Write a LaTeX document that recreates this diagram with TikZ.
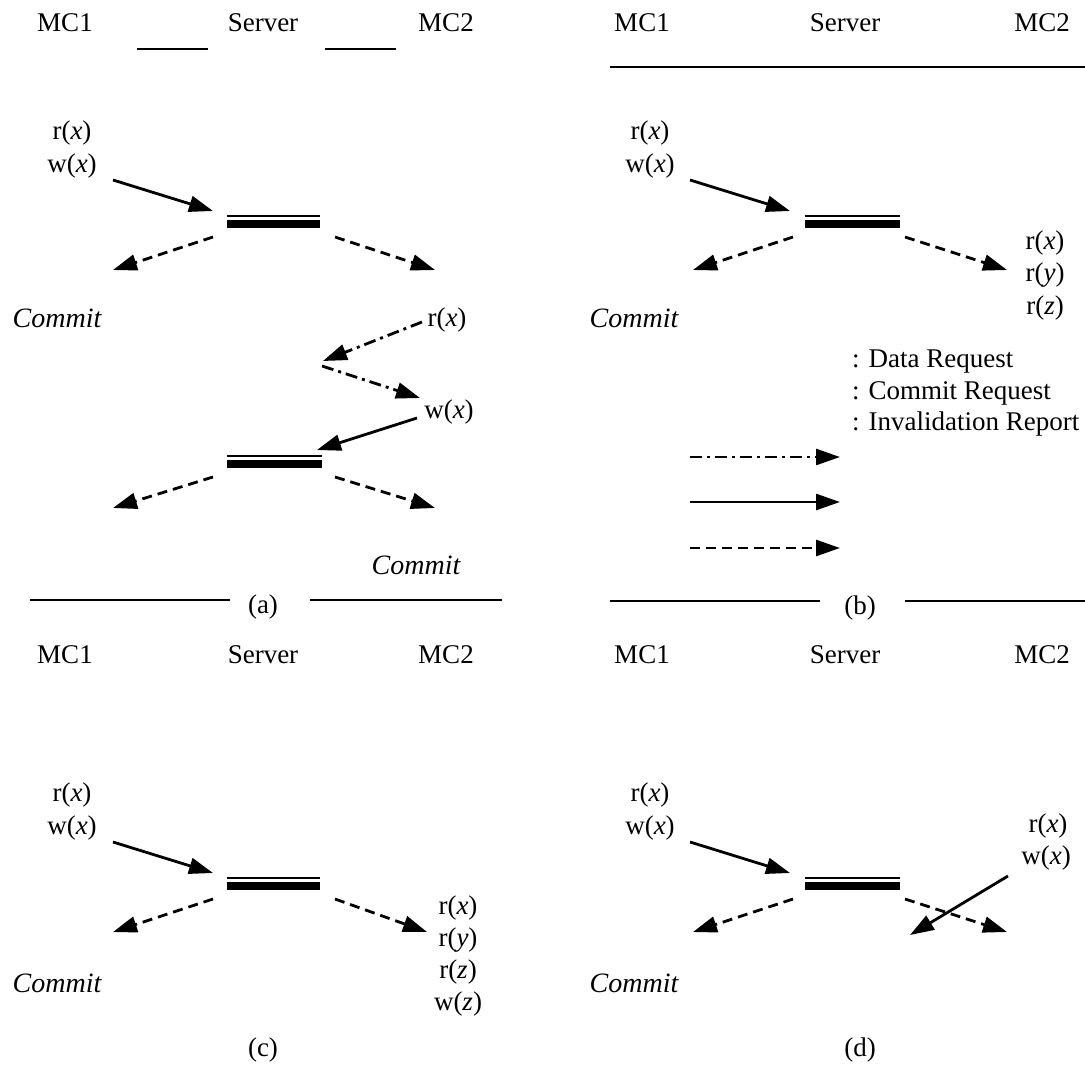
\documentclass[tikz,border=0pt]{standalone}
\usepackage{fontspec}
\setmainfont{Liberation Serif}
\usetikzlibrary{arrows.meta}
\tikzset{
  lbl/.style={font=\fontsize{27}{32}\selectfont, inner sep=0pt},
  clbl/.style={lbl, font=\fontsize{28}{32}\selectfont\itshape},
  msg/.style={line width=2.8pt, -{Triangle[length=24pt,width=16pt]}},
  dreq/.style={msg, dash pattern=on 12pt off 5pt on 3pt off 5pt},
  creq/.style={msg},
  inv/.style={msg, dash pattern=on 10pt off 6pt},
  thinbar/.style={line width=2.8pt},
  thickbar/.style={line width=7.5pt},
  rule/.style={line width=2.6pt},
}
\newcommand{\srvbar}[3]{% x1 x2 y(top)
  \draw[thinbar] (#1,#3) -- (#2,#3);
  \draw[thickbar] (#1,#3+8) -- (#2,#3+8);
}
\begin{document}
\begin{tikzpicture}[x=1pt,y=-1pt]
\useasboundingbox (0,0) rectangle (1085,1073);

% ===================== (a) =====================
\node[lbl] (aMC1) at (65,23) {MC1};
\node[lbl] (aSrv) at (263,23) {Server};
\node[lbl] (aMC2) at (446,23) {MC2};
\draw[rule] (137,49) -- (208,49);
\draw[rule] (325,49) -- (396,49);

\node[lbl] (arx) at (72,133) {r(\textit{x})};
\node[lbl] (awx) at (72,166) {w(\textit{x})};
\coordinate (aS1) at (113,180); \coordinate (aE1) at (213,211);
\draw[creq] (aS1) -- (aE1);
\srvbar{227}{320}{216}
\coordinate (aL1s) at (213,237); \coordinate (aL1e) at (113,270);
\coordinate (aR1s) at (335,237); \coordinate (aR1e) at (435,270);
\draw[inv] (aL1s) -- (aL1e);
\draw[inv] (aR1s) -- (aR1e);
\node[clbl] (aCom1) at (57,318) {Commit};

\node[lbl] (arx2) at (447,320) {r(\textit{x})};
\coordinate (aD1s) at (422,322); \coordinate (aD1e) at (323,361);
\coordinate (aD2s) at (322,366); \coordinate (aD2e) at (420,398);
\draw[dreq] (aD1s) -- (aD1e);
\draw[dreq] (aD2s) -- (aD2e);
\node[lbl] (awx2) at (449,412) {w(\textit{x})};
\coordinate (aC2s) at (417,418); \coordinate (aC2e) at (317,450);
\draw[creq] (aC2s) -- (aC2e);
\srvbar{227}{322}{456}
\coordinate (aL2s) at (213,477); \coordinate (aL2e) at (113,508);
\coordinate (aR2s) at (335,477); \coordinate (aR2e) at (435,508);
\draw[inv] (aL2s) -- (aL2e);
\draw[inv] (aR2s) -- (aR2e);
\node[clbl] (aCom2) at (416,565) {Commit};
\draw[rule] (30,600) -- (230,600);
\draw[rule] (310,600) -- (502,600);
\node[lbl] (acap) at (263,607) {(a)};

% ===================== (b) =====================
\node[lbl] (bMC1) at (642,23) {MC1};
\node[lbl] (bSrv) at (845,23) {Server};
\node[lbl] (bMC2) at (1042,23) {MC2};
\draw[rule] (610,67) -- (1085,67);

\node[lbl] (brx) at (650,133) {r(\textit{x})};
\node[lbl] (bwx) at (650,166) {w(\textit{x})};
\coordinate (bS1) at (690,180); \coordinate (bE1) at (790,211);
\draw[creq] (bS1) -- (bE1);
\srvbar{805}{900}{216}
\coordinate (bL1s) at (793,237); \coordinate (bL1e) at (693,270);
\coordinate (bR1s) at (905,237); \coordinate (bR1e) at (1007,270);
\draw[inv] (bL1s) -- (bL1e);
\draw[inv] (bR1s) -- (bR1e);
\node[lbl] (brx2) at (1045,243) {r(\textit{x})};
\node[lbl] (bry2) at (1045,275) {r(\textit{y})};
\node[lbl] (brz2) at (1045,308) {r(\textit{z})};
\node[clbl] (bCom) at (634,318) {Commit};

\node[lbl, anchor=west] (leg1) at (852,362) {: Data Request};
\node[lbl, anchor=west] (leg2) at (852,393) {: Commit Request};
\node[lbl, anchor=west] (leg3) at (852,424) {: Invalidation Report};
\coordinate (l1s) at (690,457); \coordinate (l1e) at (840,457);
\coordinate (l2s) at (690,502); \coordinate (l2e) at (840,502);
\coordinate (l3s) at (690,548); \coordinate (l3e) at (840,548);
\draw[dreq] (l1s) -- (l1e);
\draw[creq] (l2s) -- (l2e);
\draw[inv] (l3s) -- (l3e);

\draw[rule] (610,601) -- (820,601);
\draw[rule] (905,601) -- (1085,601);
\node[lbl] (bcap) at (860,608) {(b)};

% ===================== (c) =====================
\node[lbl] (cMC1) at (65,655) {MC1};
\node[lbl] (cSrv) at (263,655) {Server};
\node[lbl] (cMC2) at (446,655) {MC2};

\node[lbl] (crx) at (72,795) {r(\textit{x})};
\node[lbl] (cwx) at (72,828) {w(\textit{x})};
\coordinate (cS1) at (113,842); \coordinate (cE1) at (213,873);
\draw[creq] (cS1) -- (cE1);
\srvbar{227}{320}{878}
\coordinate (cL1s) at (213,899); \coordinate (cL1e) at (113,932);
\coordinate (cR1s) at (335,899); \coordinate (cR1e) at (427,932);
\draw[inv] (cL1s) -- (cL1e);
\draw[inv] (cR1s) -- (cR1e);
\node[lbl] (crx2) at (458,908) {r(\textit{x})};
\node[lbl] (cry2) at (458,940) {r(\textit{y})};
\node[lbl] (crz2) at (458,972) {r(\textit{z})};
\node[lbl] (cwz2) at (458,1004) {w(\textit{z})};
\node[clbl] (cCom) at (57,983) {Commit};
\node[lbl] (ccap) at (263,1050) {(c)};

% ===================== (d) =====================
\node[lbl] (dMC1) at (642,655) {MC1};
\node[lbl] (dSrv) at (845,655) {Server};
\node[lbl] (dMC2) at (1042,655) {MC2};

\node[lbl] (drx) at (650,795) {r(\textit{x})};
\node[lbl] (dwx) at (650,828) {w(\textit{x})};
\coordinate (dS1) at (690,842); \coordinate (dE1) at (790,873);
\draw[creq] (dS1) -- (dE1);
\srvbar{805}{900}{878}
\coordinate (dL1s) at (793,899); \coordinate (dL1e) at (693,932);
\coordinate (dR1s) at (905,899); \coordinate (dR1e) at (1007,932);
\draw[inv] (dL1s) -- (dL1e);
\draw[inv] (dR1s) -- (dR1e);
\node[lbl] (drx2) at (1048,826) {r(\textit{x})};
\node[lbl] (dwx2) at (1046,858) {w(\textit{x})};
\coordinate (dC2s) at (1008,876); \coordinate (dC2e) at (910,935);
\draw[creq] (dC2s) -- (dC2e);
\node[clbl] (dCom) at (634,983) {Commit};
\node[lbl] (dcap) at (860,1050) {(d)};
\end{tikzpicture}
\end{document}
